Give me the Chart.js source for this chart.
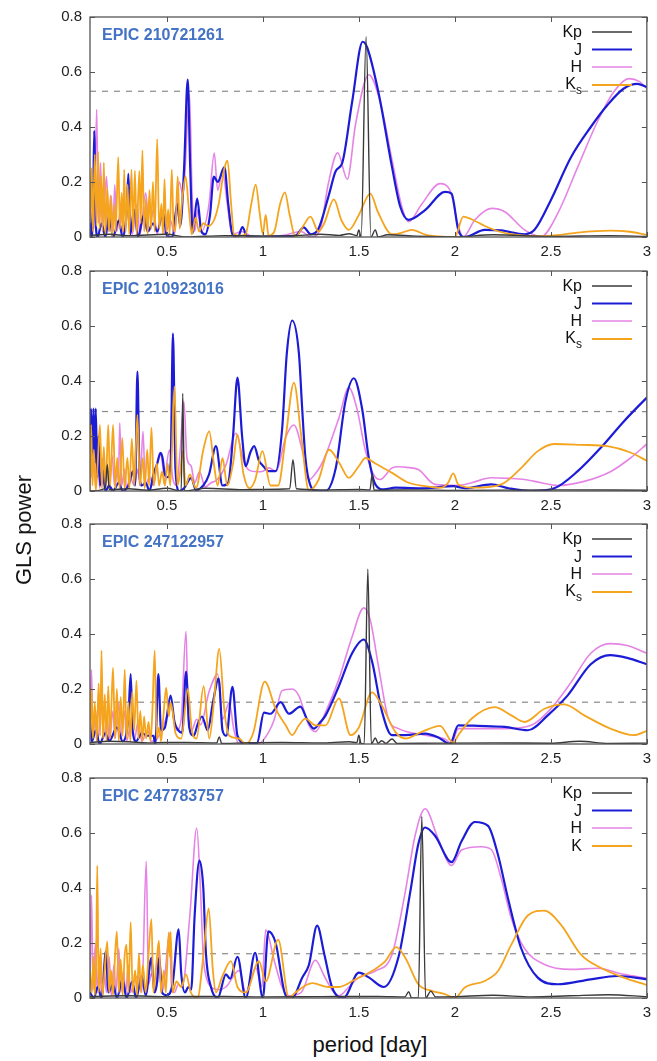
<!DOCTYPE html>
<html>
<head>
<meta charset="utf-8">
<script src="https://cdn.jsdelivr.net/npm/chart.js@4.4.1/dist/chart.umd.min.js"></script>
<style>
  body { margin: 0; background: #fff; font-family: "Liberation Sans", Arial, sans-serif; }
  #wrap { position: relative; width: 657px; height: 1061px; overflow: hidden; }
  .panel { position: absolute; left: 0; }
  #ylab { position: absolute; left: 24px; top: 530px; font-size: 22px; color: #111;
          transform: translate(-50%, -50%) rotate(-90deg); white-space: nowrap; }
  #xlab { position: absolute; left: 370px; top: 1045px; font-size: 22px; color: #111;
          transform: translate(-50%, -50%); white-space: nowrap; }
</style>
</head>
<body>
<div id="wrap">
  <canvas class="panel" id="p0" width="657" height="268" style="top:0px"></canvas>
  <canvas class="panel" id="p1" width="657" height="268" style="top:254px"></canvas>
  <canvas class="panel" id="p2" width="657" height="268" style="top:507px"></canvas>
  <canvas class="panel" id="p3" width="657" height="268" style="top:761px"></canvas>
  <div id="ylab">GLS power</div>
  <div id="xlab">period [day]</div>
</div>
<script>
// axis ticks
const xTicks = [0.5, 1, 1.5, 2, 2.5, 3];
const yTicks = [0, 0.2, 0.4, 0.6, 0.8];

const stars = ['EPIC 210721261', 'EPIC 210923016', 'EPIC 247122957', 'EPIC 247783757'];
const thresholds = [0.53, 0.289, 0.152, 0.161];
const bands = [['Kp', 'J', 'H', 'Ks'], ['Kp', 'J', 'H', 'Ks'], ['Kp', 'J', 'H', 'Ks'], ['Kp', 'J', 'H', 'K']];

// periodograms, [period, power]
const kp1 = [[0.1,0.005],[0.2,0.01],[0.3,0.005],[0.5,0.01],[0.6,0.0],[0.8,0.005],[1.0,0.004],[1.2,0.006],[1.3,0.01],[1.4,0.006],[1.45,0.012],[1.49,0.005],[1.5,0.026],[1.512,0.0],[1.538,0.728],[1.563,0.0],[1.586,0.026],[1.6,0.0],[1.65,0.008],[1.8,0.003],[2.0,0.0],[2.2,0.008],[2.5,0.002],[2.8,0.005],[3.0,0.002]];
const j1 = [[0.100,0.09],[0.106,0.0],[0.116,0.10],[0.122,0.386],[0.130,0.05],[0.140,0.0],[0.160,0.05],[0.180,0.0],[0.200,0.08],[0.220,0.0],[0.250,0.06],[0.270,0.0],[0.290,0.08],[0.300,0.23],[0.310,0.01],[0.330,0.10],[0.350,0.0],[0.380,0.08],[0.400,0.02],[0.430,0.05],[0.450,0.02],[0.480,0.09],[0.500,0.005],[0.530,0.0],[0.554,0.12],[0.570,0.04],[0.590,0.25],[0.609,0.572],[0.622,0.25],[0.635,0.015],[0.658,0.14],[0.680,0.02],[0.700,0.01],[0.725,0.08],[0.745,0.22],[0.765,0.20],[0.800,0.254],[0.820,0.12],[0.842,0.01],[0.870,0.0],[0.894,0.036],[0.920,0.0],[1.000,0.0],[1.100,0.002],[1.170,0.005],[1.213,0.035],[1.250,0.01],[1.290,0.03],[1.343,0.15],[1.380,0.24],[1.414,0.27],[1.465,0.49],[1.520,0.71],[1.543,0.69],[1.604,0.52],[1.673,0.254],[1.716,0.11],[1.759,0.062],[1.845,0.098],[1.949,0.164],[1.983,0.158],[2.018,0.026],[2.052,0.0],[2.156,0.026],[2.242,0.024],[2.363,0.01],[2.415,0.026],[2.500,0.134],[2.605,0.29],[2.708,0.40],[2.795,0.48],[2.880,0.54],[2.950,0.557],[3.000,0.545]];
const h1 = [[0.100,0.02],[0.112,0.20],[0.120,0.03],[0.135,0.464],[0.143,0.05],[0.155,0.27],[0.165,0.03],[0.175,0.12],[0.186,0.22],[0.200,0.02],[0.210,0.15],[0.220,0.02],[0.229,0.19],[0.240,0.02],[0.260,0.10],[0.275,0.01],[0.300,0.15],[0.320,0.01],[0.345,0.12],[0.360,0.01],[0.390,0.16],[0.410,0.02],[0.430,0.10],[0.450,0.01],[0.470,0.08],[0.490,0.01],[0.520,0.06],[0.540,0.01],[0.565,0.20],[0.585,0.15],[0.618,0.52],[0.632,0.15],[0.645,0.02],[0.662,0.10],[0.680,0.02],[0.720,0.12],[0.747,0.305],[0.765,0.17],[0.790,0.24],[0.815,0.12],[0.840,0.01],[0.890,0.02],[0.950,0.0],[1.100,0.005],[1.200,0.02],[1.250,0.0],[1.300,0.03],[1.340,0.19],[1.390,0.306],[1.440,0.21],[1.483,0.41],[1.552,0.59],[1.612,0.49],[1.673,0.28],[1.724,0.11],[1.759,0.056],[1.828,0.12],[1.923,0.194],[1.975,0.17],[2.018,0.04],[2.043,0.0],[2.104,0.062],[2.190,0.104],[2.260,0.092],[2.363,0.026],[2.450,0.002],[2.536,0.086],[2.640,0.254],[2.743,0.42],[2.830,0.53],[2.907,0.576],[2.960,0.566],[3.000,0.54]];
const ks1 = [[0.100,0.05],[0.108,0.25],[0.115,0.02],[0.125,0.30],[0.134,0.04],[0.142,0.31],[0.150,0.03],[0.158,0.22],[0.165,0.02],[0.172,0.27],[0.180,0.01],[0.190,0.18],[0.198,0.02],[0.207,0.15],[0.215,0.00],[0.225,0.12],[0.234,0.02],[0.247,0.29],[0.256,0.03],[0.265,0.16],[0.272,0.02],[0.278,0.245],[0.286,0.02],[0.296,0.19],[0.304,0.01],[0.316,0.245],[0.324,0.02],[0.334,0.24],[0.343,0.01],[0.357,0.24],[0.364,0.05],[0.373,0.315],[0.382,0.02],[0.392,0.14],[0.400,0.01],[0.410,0.17],[0.418,0.03],[0.428,0.20],[0.437,0.02],[0.450,0.356],[0.460,0.03],[0.472,0.12],[0.480,0.01],[0.488,0.21],[0.497,0.02],[0.507,0.10],[0.515,0.01],[0.526,0.245],[0.536,0.02],[0.546,0.05],[0.557,0.22],[0.567,0.03],[0.578,0.12],[0.598,0.22],[0.615,0.10],[0.630,0.01],[0.650,0.07],[0.668,0.02],[0.690,0.05],[0.715,0.04],[0.745,0.06],[0.770,0.12],[0.800,0.25],[0.816,0.278],[0.835,0.12],[0.850,0.01],[0.880,0.005],[0.910,0.01],[0.940,0.12],[0.963,0.19],[0.985,0.08],[1.000,0.01],[1.015,0.08],[1.030,0.005],[1.060,0.02],[1.090,0.12],[1.115,0.162],[1.140,0.08],[1.170,0.0],[1.210,0.04],[1.248,0.074],[1.290,0.02],[1.320,0.05],[1.370,0.137],[1.410,0.06],[1.448,0.026],[1.500,0.08],[1.560,0.158],[1.600,0.09],[1.673,0.01],[1.720,0.015],[1.776,0.026],[1.850,0.008],[1.920,0.002],[2.000,0.0],[2.044,0.074],[2.100,0.06],[2.156,0.04],[2.230,0.02],[2.294,0.01],[2.432,0.003],[2.550,0.008],[2.640,0.016],[2.810,0.023],[2.900,0.02],[3.000,0.008]];

const kp2 = [[0.1,0.0],[0.18,0.01],[0.19,0.096],[0.2,0.005],[0.3,0.008],[0.4,0.003],[0.5,0.01],[0.575,0.0],[0.583,0.355],[0.592,0.0],[0.7,0.01],[0.9,0.005],[1.0,0.006],[1.14,0.008],[1.157,0.114],[1.175,0.008],[1.3,0.004],[1.5,0.006],[1.558,0.004],[1.569,0.058],[1.58,0.003],[1.8,0.004],[2.0,0.002],[2.5,0.004],[3.0,0.003]];
const j2 = [[0.100,0.05],[0.105,0.30],[0.112,0.12],[0.118,0.30],[0.125,0.10],[0.130,0.30],[0.138,0.05],[0.145,0.20],[0.152,0.02],[0.165,0.08],[0.180,0.0],[0.200,0.02],[0.220,0.0],[0.250,0.03],[0.270,0.0],[0.300,0.02],[0.324,0.072],[0.335,0.02],[0.347,0.434],[0.358,0.06],[0.370,0.02],[0.390,0.03],[0.410,0.0],[0.430,0.06],[0.450,0.10],[0.468,0.139],[0.478,0.12],[0.490,0.06],[0.505,0.05],[0.520,0.10],[0.532,0.572],[0.545,0.08],[0.565,0.0],[0.590,0.01],[0.627,0.048],[0.652,0.003],[0.690,0.02],[0.720,0.06],[0.756,0.163],[0.790,0.02],[0.820,0.03],[0.845,0.20],[0.868,0.412],[0.892,0.20],[0.911,0.09],[0.935,0.14],[0.955,0.163],[0.980,0.11],[0.998,0.094],[1.032,0.072],[1.067,0.072],[1.100,0.22],[1.125,0.50],[1.153,0.62],[1.188,0.50],[1.205,0.30],[1.222,0.12],[1.248,0.02],[1.280,0.0],[1.327,0.0],[1.380,0.084],[1.430,0.325],[1.474,0.41],[1.517,0.30],[1.552,0.12],[1.586,0.024],[1.630,0.006],[1.690,0.012],[1.845,0.01],[1.992,0.018],[2.052,0.01],[2.190,0.024],[2.280,0.01],[2.398,0.0],[2.518,0.01],[2.640,0.072],[2.760,0.157],[2.880,0.253],[3.000,0.34]];
const h2 = [[0.100,0.10],[0.105,0.20],[0.110,0.05],[0.120,0.22],[0.128,0.02],[0.140,0.15],[0.150,0.01],[0.165,0.12],[0.175,0.02],[0.190,0.10],[0.200,0.01],[0.215,0.13],[0.228,0.02],[0.240,0.10],[0.248,0.03],[0.255,0.247],[0.265,0.02],[0.280,0.08],[0.290,0.01],[0.310,0.05],[0.330,0.02],[0.350,0.08],[0.360,0.02],[0.376,0.217],[0.388,0.02],[0.410,0.05],[0.430,0.02],[0.450,0.10],[0.465,0.14],[0.478,0.096],[0.490,0.02],[0.500,0.10],[0.515,0.15],[0.530,0.05],[0.550,0.02],[0.570,0.15],[0.589,0.325],[0.605,0.12],[0.627,0.09],[0.645,0.03],[0.670,0.07],[0.700,0.015],[0.730,0.03],[0.760,0.04],[0.808,0.095],[0.860,0.21],[0.900,0.11],[0.930,0.075],[0.970,0.07],[1.000,0.072],[1.032,0.084],[1.070,0.072],[1.118,0.193],[1.162,0.24],[1.205,0.15],[1.240,0.04],[1.270,0.06],[1.300,0.09],[1.327,0.13],[1.396,0.265],[1.448,0.376],[1.490,0.30],[1.535,0.145],[1.586,0.05],[1.612,0.042],[1.673,0.084],[1.707,0.088],[1.750,0.086],[1.810,0.078],[1.897,0.024],[2.018,0.02],[2.087,0.03],[2.190,0.048],[2.280,0.046],[2.363,0.042],[2.450,0.03],[2.536,0.02],[2.674,0.035],[2.810,0.07],[2.915,0.12],[3.000,0.171]];
const ks2 = [[0.100,0.0],[0.106,0.24],[0.113,0.02],[0.120,0.15],[0.130,0.0],[0.140,0.10],[0.152,0.24],[0.162,0.01],[0.172,0.16],[0.182,0.01],[0.195,0.24],[0.205,0.02],[0.220,0.24],[0.232,0.01],[0.242,0.12],[0.255,0.01],[0.268,0.193],[0.280,0.01],[0.295,0.12],[0.305,0.01],[0.318,0.19],[0.330,0.02],[0.347,0.277],[0.360,0.02],[0.375,0.12],[0.385,0.01],[0.398,0.15],[0.408,0.02],[0.420,0.23],[0.432,0.02],[0.448,0.10],[0.460,0.02],[0.475,0.07],[0.490,0.02],[0.505,0.10],[0.518,0.02],[0.540,0.38],[0.555,0.02],[0.568,0.06],[0.583,0.145],[0.598,0.02],[0.620,0.06],[0.652,0.01],[0.690,0.15],[0.721,0.217],[0.745,0.10],[0.765,0.02],[0.790,0.12],[0.815,0.02],[0.845,0.10],[0.868,0.205],[0.900,0.06],[0.930,0.01],[0.960,0.04],[0.998,0.145],[1.040,0.02],[1.080,0.02],[1.120,0.20],[1.162,0.394],[1.200,0.20],[1.240,0.002],[1.290,0.04],[1.345,0.15],[1.400,0.10],[1.448,0.048],[1.500,0.09],[1.535,0.12],[1.586,0.10],[1.673,0.066],[1.760,0.03],[1.845,0.018],[1.930,0.012],[1.965,0.03],[1.992,0.064],[2.018,0.024],[2.104,0.012],[2.242,0.024],[2.346,0.084],[2.432,0.145],[2.518,0.171],[2.657,0.168],[2.795,0.163],[2.915,0.14],[3.000,0.11]];

const kp3 = [[0.1,0.005],[0.2,0.01],[0.3,0.008],[0.4,0.004],[0.5,0.006],[0.6,0.006],[0.76,0.004],[0.773,0.026],[0.786,0.002],[0.9,0.004],[1.1,0.006],[1.3,0.004],[1.45,0.008],[1.49,0.005],[1.5,0.032],[1.512,0.002],[1.528,0.0],[1.547,0.636],[1.565,0.0],[1.586,0.022],[1.6,0.003],[1.62,0.012],[1.64,0.002],[1.673,0.018],[1.7,0.002],[1.9,0.003],[2.2,0.004],[2.5,0.003],[2.65,0.01],[2.8,0.002],[3.0,0.003]];
const j3 = [[0.100,0.08],[0.110,0.01],[0.130,0.05],[0.150,0.0],[0.180,0.04],[0.200,0.01],[0.240,0.06],[0.270,0.01],[0.300,0.10],[0.312,0.254],[0.322,0.05],[0.340,0.01],[0.370,0.04],[0.400,0.03],[0.430,0.03],[0.440,0.0],[0.456,0.254],[0.470,0.05],[0.490,0.06],[0.520,0.176],[0.540,0.08],[0.560,0.05],[0.580,0.04],[0.600,0.263],[0.617,0.06],[0.640,0.03],[0.660,0.07],[0.683,0.10],[0.713,0.05],[0.740,0.15],[0.770,0.238],[0.790,0.05],[0.810,0.03],[0.842,0.208],[0.868,0.03],[0.920,0.0],[0.970,0.003],[1.006,0.114],[1.040,0.11],[1.093,0.152],[1.136,0.11],[1.196,0.136],[1.230,0.09],[1.265,0.056],[1.300,0.08],[1.327,0.104],[1.396,0.21],[1.465,0.33],[1.526,0.38],[1.569,0.30],[1.620,0.12],[1.673,0.032],[1.742,0.032],[1.845,0.038],[1.914,0.024],[1.975,0.0],[2.018,0.068],[2.120,0.066],[2.260,0.062],[2.380,0.05],[2.484,0.104],[2.587,0.176],[2.708,0.29],[2.810,0.323],[2.898,0.313],[3.000,0.29]];
const h3 = [[0.100,0.05],[0.108,0.27],[0.115,0.02],[0.130,0.12],[0.140,0.01],[0.160,0.15],[0.170,0.02],[0.190,0.10],[0.200,0.01],[0.220,0.12],[0.230,0.02],[0.250,0.15],[0.260,0.02],[0.280,0.12],[0.290,0.01],[0.320,0.10],[0.330,0.01],[0.350,0.08],[0.370,0.01],[0.400,0.05],[0.420,0.01],[0.450,0.02],[0.500,0.10],[0.520,0.15],[0.550,0.05],[0.575,0.09],[0.600,0.41],[0.612,0.09],[0.630,0.05],[0.655,0.09],[0.676,0.07],[0.720,0.19],[0.765,0.254],[0.790,0.09],[0.825,0.15],[0.850,0.05],[0.877,0.0],[0.980,0.002],[1.032,0.045],[1.060,0.09],[1.100,0.194],[1.153,0.20],[1.188,0.175],[1.240,0.068],[1.274,0.045],[1.327,0.116],[1.396,0.235],[1.465,0.39],[1.526,0.495],[1.560,0.45],[1.603,0.28],[1.655,0.09],[1.707,0.056],[1.845,0.032],[1.950,0.017],[1.983,0.002],[2.018,0.056],[2.120,0.056],[2.260,0.056],[2.398,0.068],[2.500,0.128],[2.605,0.224],[2.708,0.33],[2.810,0.365],[2.898,0.358],[3.000,0.33]];
const ks3 = [[0.100,0.02],[0.108,0.20],[0.115,0.02],[0.125,0.15],[0.135,0.01],[0.145,0.22],[0.153,0.03],[0.160,0.34],[0.168,0.02],[0.177,0.18],[0.186,0.01],[0.195,0.21],[0.205,0.02],[0.212,0.15],[0.220,0.277],[0.230,0.02],[0.240,0.20],[0.250,0.01],[0.260,0.17],[0.270,0.03],[0.281,0.27],[0.290,0.02],[0.300,0.15],[0.310,0.01],[0.320,0.19],[0.330,0.05],[0.342,0.23],[0.352,0.02],[0.362,0.12],[0.372,0.01],[0.382,0.10],[0.392,0.02],[0.405,0.08],[0.415,0.01],[0.425,0.12],[0.437,0.34],[0.447,0.02],[0.460,0.06],[0.470,0.01],[0.482,0.10],[0.497,0.205],[0.510,0.10],[0.520,0.15],[0.530,0.12],[0.545,0.04],[0.575,0.02],[0.610,0.20],[0.630,0.05],[0.655,0.02],[0.692,0.21],[0.721,0.02],[0.745,0.15],[0.773,0.346],[0.800,0.12],[0.825,0.03],[0.877,0.02],[0.911,0.0],[0.950,0.04],[1.010,0.227],[1.067,0.128],[1.119,0.068],[1.153,0.032],[1.188,0.068],[1.222,0.092],[1.274,0.068],[1.327,0.068],[1.396,0.166],[1.457,0.032],[1.500,0.06],[1.569,0.188],[1.620,0.14],[1.690,0.044],[1.742,0.02],[1.828,0.044],[1.923,0.066],[1.992,0.005],[2.018,0.032],[2.087,0.092],[2.208,0.134],[2.294,0.104],[2.363,0.08],[2.467,0.128],[2.570,0.144],[2.674,0.104],[2.810,0.056],[2.932,0.032],[3.000,0.048]];

const kp4 = [[0.1,0.005],[0.3,0.008],[0.5,0.005],[0.8,0.006],[1.0,0.004],[1.3,0.005],[1.6,0.006],[1.74,0.004],[1.76,0.023],[1.775,0.0],[1.81,0.0],[1.828,0.66],[1.848,0.0],[1.875,0.025],[1.9,0.004],[2.0,0.005],[2.2,0.01],[2.4,0.004],[2.6,0.008],[2.8,0.012],[3.0,0.005]];
const j4 = [[0.100,0.02],[0.120,0.0],[0.140,0.04],[0.160,0.0],[0.183,0.17],[0.195,0.02],[0.220,0.05],[0.240,0.0],[0.270,0.07],[0.290,0.0],[0.320,0.06],[0.340,0.0],[0.370,0.08],[0.390,0.01],[0.420,0.146],[0.435,0.02],[0.450,0.06],[0.460,0.146],[0.475,0.02],[0.500,0.01],[0.530,0.05],[0.562,0.25],[0.575,0.09],[0.595,0.02],[0.612,0.04],[0.627,0.03],[0.645,0.30],[0.670,0.50],[0.690,0.40],[0.704,0.16],[0.730,0.04],[0.765,0.0],[0.808,0.086],[0.830,0.07],[0.868,0.15],[0.911,0.0],[0.960,0.164],[1.000,0.0],[1.029,0.242],[1.067,0.20],[1.119,0.01],[1.153,0.0],[1.205,0.074],[1.240,0.12],[1.283,0.263],[1.320,0.16],[1.360,0.04],[1.420,0.0],[1.500,0.092],[1.552,0.075],[1.630,0.04],[1.707,0.15],[1.768,0.386],[1.810,0.56],[1.845,0.62],[1.897,0.59],[1.983,0.494],[2.035,0.57],[2.104,0.64],[2.173,0.626],[2.225,0.52],[2.277,0.362],[2.346,0.18],[2.432,0.074],[2.536,0.05],[2.708,0.068],[2.846,0.08],[3.000,0.068]];
const h4 = [[0.100,0.05],[0.108,0.374],[0.116,0.03],[0.128,0.20],[0.138,0.02],[0.150,0.15],[0.160,0.01],[0.175,0.10],[0.185,0.02],[0.200,0.15],[0.210,0.01],[0.225,0.12],[0.235,0.02],[0.250,0.18],[0.260,0.02],[0.275,0.10],[0.285,0.01],[0.300,0.12],[0.310,0.02],[0.330,0.06],[0.350,0.08],[0.370,0.02],[0.393,0.497],[0.405,0.05],[0.420,0.09],[0.440,0.02],[0.460,0.18],[0.475,0.02],[0.490,0.08],[0.514,0.236],[0.525,0.04],[0.540,0.02],[0.560,0.05],[0.580,0.04],[0.620,0.30],[0.656,0.618],[0.675,0.40],[0.690,0.15],[0.704,0.08],[0.730,0.04],[0.770,0.03],[0.808,0.04],[0.877,0.10],[0.911,0.02],[0.963,0.11],[0.995,0.04],[1.015,0.248],[1.058,0.14],[1.100,0.04],[1.136,0.008],[1.200,0.02],[1.274,0.137],[1.320,0.08],[1.360,0.03],[1.396,0.008],[1.448,0.04],[1.500,0.075],[1.586,0.098],[1.673,0.158],[1.742,0.386],[1.793,0.59],[1.845,0.688],[1.914,0.578],[1.983,0.482],[2.035,0.538],[2.138,0.55],[2.190,0.54],[2.242,0.434],[2.294,0.29],[2.363,0.18],[2.467,0.122],[2.605,0.104],[2.743,0.108],[2.880,0.086],[3.000,0.072]];
const k4 = [[0.100,0.10],[0.110,0.02],[0.118,0.15],[0.125,0.01],[0.132,0.15],[0.138,0.482],[0.145,0.02],[0.155,0.18],[0.165,0.01],[0.178,0.12],[0.190,0.206],[0.200,0.02],[0.210,0.10],[0.220,0.01],[0.230,0.15],[0.240,0.242],[0.250,0.02],[0.260,0.14],[0.270,0.01],[0.280,0.15],[0.290,0.194],[0.300,0.02],[0.312,0.276],[0.322,0.02],[0.335,0.10],[0.345,0.01],[0.355,0.16],[0.365,0.02],[0.375,0.12],[0.390,0.02],[0.405,0.16],[0.420,0.287],[0.430,0.02],[0.445,0.12],[0.459,0.209],[0.470,0.02],[0.485,0.10],[0.495,0.02],[0.510,0.239],[0.515,0.15],[0.520,0.24],[0.530,0.02],[0.550,0.06],[0.575,0.04],[0.600,0.086],[0.625,0.02],[0.660,0.0],[0.690,0.15],[0.718,0.326],[0.740,0.10],[0.756,0.02],[0.790,0.08],[0.834,0.134],[0.868,0.04],[0.911,0.02],[0.980,0.134],[1.015,0.06],[1.080,0.212],[1.136,0.0],[1.170,0.02],[1.257,0.054],[1.343,0.04],[1.396,0.04],[1.483,0.068],[1.569,0.098],[1.638,0.134],[1.695,0.185],[1.742,0.146],[1.810,0.05],[1.880,0.026],[1.948,0.014],[2.000,0.0],[2.052,0.038],[2.156,0.062],[2.225,0.098],[2.294,0.194],[2.380,0.30],[2.467,0.318],[2.553,0.266],[2.657,0.158],[2.760,0.11],[2.880,0.074],[3.000,0.047]];

const panels = [
  [kp1, j1, h1, ks1],
  [kp2, j2, h2, ks2],
  [kp3, j3, h3, ks3],
  [kp4, j4, h4, k4]
];

const colors = ['#3a3a3a', '#1c1cd6', '#e684e6', '#f5a41e'];
const widths = [1.4, 2.2, 1.6, 1.8];
const frameColor = '#555';

const toXY = arr => arr.map(p => ({ x: p[0], y: p[1] }));

// frame, inward ticks, star name and band legend
const decor = {
  id: 'decor',
  afterDraw(chart, args, opts) {
    const { ctx, chartArea: a, scales } = chart;
    ctx.save();
    ctx.strokeStyle = frameColor;
    ctx.lineWidth = 1;
    ctx.beginPath();
    xTicks.forEach(v => {
      const px = Math.round(scales.x.getPixelForValue(v)) + 0.5;
      ctx.moveTo(px, a.bottom); ctx.lineTo(px, a.bottom - 5);
      ctx.moveTo(px, a.top); ctx.lineTo(px, a.top + 5);
    });
    yTicks.forEach(v => {
      const py = Math.round(scales.y.getPixelForValue(v)) + 0.5;
      ctx.moveTo(a.left, py); ctx.lineTo(a.left + 5, py);
      ctx.moveTo(a.right, py); ctx.lineTo(a.right - 5, py);
    });
    ctx.stroke();
    ctx.lineWidth = 1.3;
    ctx.strokeRect(a.left, a.top, a.right - a.left, a.bottom - a.top);

    ctx.fillStyle = '#4472c4';
    ctx.font = 'bold 16px "Liberation Sans", Arial, sans-serif';
    ctx.textBaseline = 'middle';
    ctx.textAlign = 'left';
    ctx.fillText(opts.star, a.left + 12, a.top + 19);

    const rows = [16, 33.5, 51, 69];
    const tx = 582;
    opts.bands.forEach((name, i) => {
      const y = a.top + rows[i];
      ctx.fillStyle = '#111';
      ctx.textAlign = 'right';
      ctx.textBaseline = 'middle';
      if (name.length > 1 && name !== 'Kp') {
        ctx.font = '12px "Liberation Sans", Arial, sans-serif';
        const sw = ctx.measureText(name.slice(1)).width;
        ctx.fillText(name.slice(1), tx, y + 5);
        ctx.font = '16px "Liberation Sans", Arial, sans-serif';
        ctx.fillText(name[0], tx - sw, y - 1);
      } else {
        ctx.font = '16px "Liberation Sans", Arial, sans-serif';
        ctx.fillText(name, tx, y);
      }
      ctx.strokeStyle = colors[i];
      ctx.lineWidth = widths[i];
      ctx.beginPath();
      ctx.moveTo(592, y - 1); ctx.lineTo(632, y - 1);
      ctx.stroke();
    });
    ctx.restore();
  }
};

panels.forEach((series, k) => {
  const datasets = series.map((s, i) => ({
    data: toXY(s),
    borderColor: colors[i],
    borderWidth: widths[i],
    order: [0, 2, 3, 1][i],
    cubicInterpolationMode: 'monotone',
    pointRadius: 0
  }));
  datasets.push({
    data: toXY([[0.1, thresholds[k]], [3, thresholds[k]]]),
    borderColor: '#8a8a8a',
    borderWidth: 1.2,
    borderDash: [6, 6],
    order: 9,
    pointRadius: 0
  });

  new Chart(document.getElementById('p' + k), {
    type: 'line',
    data: { datasets },
    options: {
      responsive: false,
      animation: false,
      devicePixelRatio: 1,
      layout: { autoPadding: false, padding: { top: 15, right: 7, left: 0, bottom: 0 } },
      plugins: {
        legend: { display: false },
        tooltip: { enabled: false },
        decor: { star: stars[k], bands: bands[k] }
      },
      scales: {
        x: {
          type: 'linear', min: 0.1, max: 3,
          afterBuildTicks: s => { s.ticks = xTicks.map(v => ({ value: v })); },
          afterFit: s => { s.height = 31; },
          grid: { display: false, drawTicks: false },
          border: { display: false },
          ticks: { autoSkip: false, maxRotation: 0, padding: 6, color: '#222',
                   callback: v => String(v),
                   font: { size: 15, family: '"Liberation Sans", Arial, sans-serif' } }
        },
        y: {
          min: 0, max: 0.8,
          afterBuildTicks: s => { s.ticks = yTicks.map(v => ({ value: v })); },
          afterFit: s => { s.width = 90; },
          grid: { display: false, drawTicks: false },
          border: { display: false },
          ticks: { padding: 8, color: '#222',
                   font: { size: 15, family: '"Liberation Sans", Arial, sans-serif' } }
        }
      }
    },
    plugins: [decor]
  });
});
</script>
</body>
</html>
